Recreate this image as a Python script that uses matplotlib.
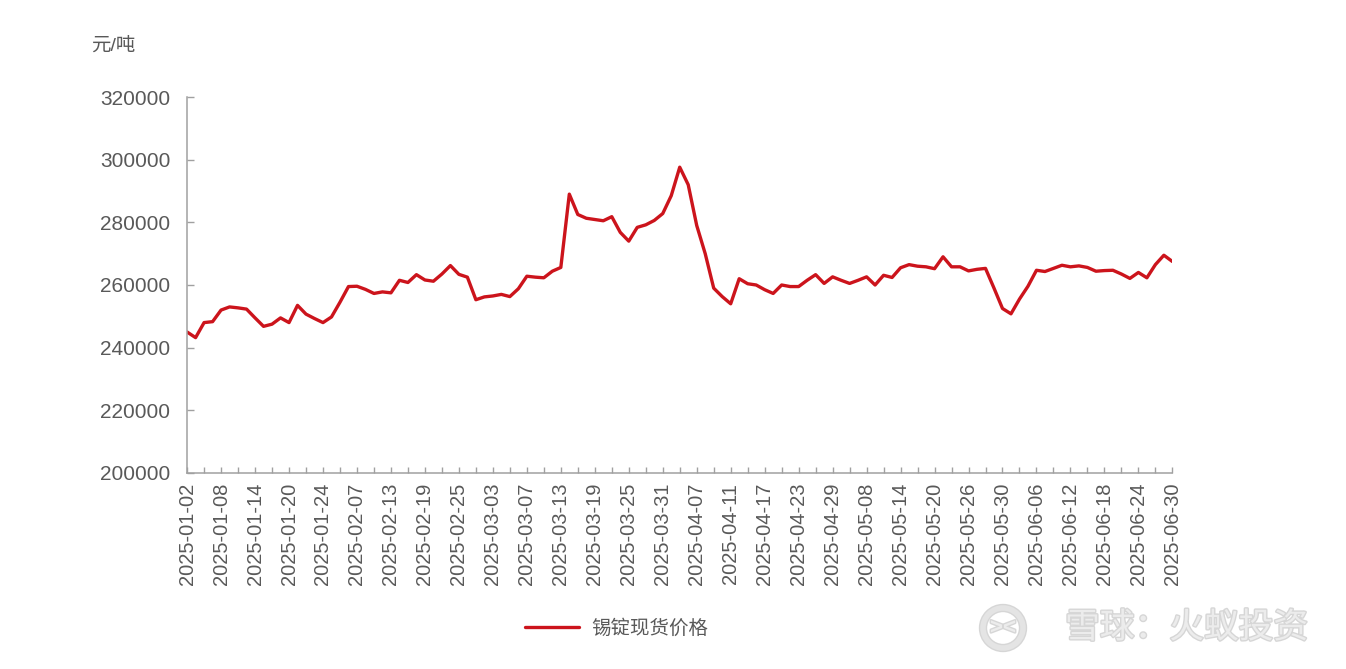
#!/usr/bin/env python3
"""Tin ingot spot price, H1 2025 (daily, Chinese trading calendar)."""

import numpy as np
import pandas as pd
import matplotlib
matplotlib.use('Agg')
import matplotlib.pyplot as plt
import matplotlib.patheffects as pe
from matplotlib.patches import Circle

# Chinese exchange holidays that fall on weekdays in H1 2025
holidays = ['2025-01-01', '2025-01-28', '2025-01-29', '2025-01-30', '2025-01-31',
            '2025-02-03', '2025-02-04', '2025-04-04', '2025-05-01', '2025-05-02',
            '2025-05-05', '2025-06-02']
dates = [d for d in pd.bdate_range('2025-01-02', '2025-06-30')
         if d.strftime('%Y-%m-%d') not in holidays]
date_labels = [d.strftime('%Y-%m-%d') for d in dates]

# spot price, yuan/ton
price = [
    245000, 243200, 248000, 248300, 252000, 253000, 252700, 252300, 249500, 246800,
    247500, 249500, 248000, 253500, 250700, 249300, 248000, 249800, 254500, 259500,
    259600, 258600, 257300, 257800, 257500, 261500, 260800, 263300, 261600, 261200,
    263500, 266200, 263400, 262500, 255300, 256200, 256500, 257000, 256300, 258800,
    262800, 262500, 262300, 264400, 265600, 289000, 282500, 281300, 280900, 280500,
    281800, 276800, 274000, 278400, 279200, 280600, 282800, 288500, 297600, 292000,
    279000, 270000, 259000, 256300, 254000, 262000, 260400, 260000, 258500, 257300,
    260000, 259500, 259500, 261500, 263300, 260500, 262600, 261500, 260500, 261500,
    262600, 260000, 263100, 262400, 265500, 266500, 266000, 265800, 265200, 269000,
    265800, 265800, 264500, 265000, 265300, 259000, 252500, 250800, 255500, 259600,
    264700, 264300, 265300, 266300, 265800, 266100, 265600, 264400, 264600, 264700,
    263500, 262100, 264000, 262300, 266500, 269500, 267500,
]
y_ticks = [200000, 220000, 240000, 260000, 280000, 300000, 320000]

TEXT = '#595959'
AXIS = '#a0a0a0'
LINE = '#cc141c'
FONT = ['Liberation Sans', 'Noto Sans CJK SC', 'DejaVu Sans']


def main():
    plt.rcParams['font.family'] = FONT
    fig = plt.figure(figsize=(13.46, 6.69), dpi=100)
    ax = fig.add_axes([0.139, 0.293, 0.732, 0.562])

    x = np.arange(len(price))
    ax.plot(x, price, color=LINE, linewidth=2.4, solid_joinstyle='round',
            solid_capstyle='round', label='锡锭现货价格')

    ax.set_xlim(0, len(price) - 1)
    ax.set_ylim(y_ticks[0], y_ticks[-1])
    ax.set_yticks(y_ticks)
    ax.set_yticklabels([str(v) for v in y_ticks])

    major = list(range(0, len(price), 4))
    ax.set_xticks(major)
    ax.set_xticklabels([date_labels[i] for i in major], rotation=90)
    ax.set_xticks(list(range(2, len(price), 4)), minor=True)

    for side in ['top', 'right']:
        ax.spines[side].set_visible(False)
    for side in ['left', 'bottom']:
        ax.spines[side].set_color(AXIS)
        ax.spines[side].set_linewidth(1.1)

    ax.tick_params(axis='y', direction='in', length=5, width=1, color=AXIS,
                   labelsize=15, labelcolor=TEXT, pad=12)
    ax.tick_params(axis='x', which='both', direction='in', length=4, width=1,
                   color=AXIS, labelsize=14.5, labelcolor=TEXT, pad=7)

    fig.text(0.068, 0.931, '元/吨', fontsize=14, color=TEXT, va='center', ha='left')

    fig.legend(loc='center', bbox_to_anchor=(0.458, 0.061), frameon=False,
               fontsize=14, labelcolor=TEXT, handlelength=2.8, handletextpad=0.6)

    # watermark
    shadow = [pe.withStroke(linewidth=2, foreground='#d6d6d6')]
    fig.text(0.972, 0.061, '雪球：火蚁投资', fontsize=25, color='#ececec',
             ha='right', va='center', path_effects=shadow)
    logo = Circle((10.03, 0.41), 0.2, transform=fig.dpi_scale_trans,
                  facecolor='none', edgecolor='#e4e4e4', linewidth=4)
    logo.set_path_effects([pe.withStroke(linewidth=6, foreground='#d6d6d6')])
    fig.patches.append(logo)
    fig.text(10.03 / 13.46, 0.061, '><', fontsize=16, color='#ececec',
             ha='center', va='center', fontweight='bold', path_effects=shadow)

    fig.savefig('out.png', dpi=100, facecolor='white')
    plt.close(fig)


if __name__ == '__main__':
    main()
